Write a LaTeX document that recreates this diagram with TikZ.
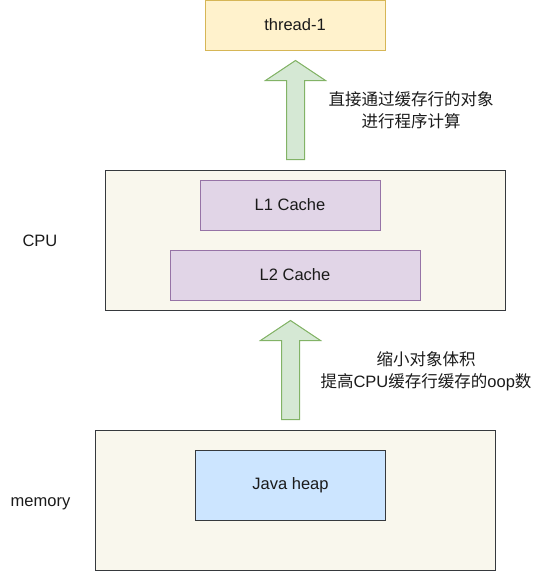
\documentclass[tikz,border=0pt]{standalone}
\usepackage{fontspec}
\setmainfont{Liberation Sans}
\newfontfamily\cjk{Noto Sans CJK SC}
\usetikzlibrary{positioning, calc}
\definecolor{threadfill}{HTML}{FFF2CC}
\definecolor{threadline}{HTML}{D6B656}
\definecolor{arrowfill}{HTML}{D5E8D4}
\definecolor{arrowline}{HTML}{82B366}
\definecolor{boxfill}{HTML}{F9F7ED}
\definecolor{boxline}{HTML}{36393D}
\definecolor{cachefill}{HTML}{E1D5E7}
\definecolor{cacheline}{HTML}{9673A6}
\definecolor{heapfill}{HTML}{CCE5FF}
\definecolor{textgray}{HTML}{1A1A1A}

\tikzset{
  box/.style={draw, line width=1pt, inner sep=0pt, text=textgray,
    font=\fontsize{16.5}{22}\selectfont},
  threadbox/.style={box, fill=threadfill, draw=threadline},
  outerbox/.style={box, fill=boxfill, draw=boxline},
  cachebox/.style={box, fill=cachefill, draw=cacheline},
  heapbox/.style={box, fill=heapfill, draw=boxline},
  label/.style={text=textgray, align=center, inner sep=0pt,
    font=\fontsize{16.5}{22}\selectfont},
  uparrow/.style={fill=arrowfill, draw=arrowline, line width=1pt, line join=miter}
}

% block arrow: #1 bottom centre, #2 tip
\newcommand{\blockarrow}[2]{%
  \path[uparrow] let \p1=(#1), \p2=(#2) in
    (\x1-\shaftw,\y1) -- (\x1-\shaftw,\y2-\headl) -- (\x1-\headw,\y2-\headl)
    -- (\x2,\y2) -- (\x1+\headw,\y2-\headl) -- (\x1+\shaftw,\y2-\headl)
    -- (\x1+\shaftw,\y1) -- cycle;}

\begin{document}
\begin{tikzpicture}[x=1pt, y=-1pt]
  \def\shaftw{9pt}
  \def\headw{30pt}
  \def\headl{20pt}
  \useasboundingbox (0,0) rectangle (546,571);

  % ===== thread =====
  \node[threadbox, minimum width=180pt, minimum height=50pt] (thread) at (295,25) {thread-1};

  % ===== CPU =====
  \node[outerbox, minimum width=400pt, minimum height=140pt] (cpu) at (305,240) {};
  \node[cachebox, minimum width=180pt, minimum height=50pt] (l1) at (290,205) {L1 Cache};
  \node[cachebox, minimum width=250pt, minimum height=50pt] (l2) at (295,275) {L2 Cache};
  \node[label, anchor=base] (cpulbl) at (40,246) {CPU};

  % ===== memory =====
  \node[outerbox, minimum width=400pt, minimum height=140pt] (memory) at (295,500) {};
  \node[heapbox, minimum width=190pt, minimum height=70pt] (heap) at (290.5,485) {Java heap};
  \node[label, anchor=base] (memlbl) at (40.5,506) {memory};

  % ===== 箭头 =====
  \coordinate (up1 bottom) at ($(cpu.north -| thread.south)+(0.5,-10)$);
  \coordinate (up1 tip) at ($(thread.south)+(0.5,10)$);
  \blockarrow{up1 bottom}{up1 tip}
  \coordinate (up2 bottom) at ($(memory.north -| heap.north)+(0,-10)$);
  \coordinate (up2 tip) at ($(cpu.south -| heap.north)+(0,10)$);
  \blockarrow{up2 bottom}{up2 tip}

  % ===== 说明文字 =====
  \node[label] (note1) at (411,110) {{\cjk 直接通过缓存行的对象}\\{\cjk 进行程序计算}};
  \node[label] (note2) at (426,371) {{\cjk 缩小对象体积}\\{\cjk 提高}CPU{\cjk 缓存行缓存的}oop{\cjk 数}};
\end{tikzpicture}
\end{document}
